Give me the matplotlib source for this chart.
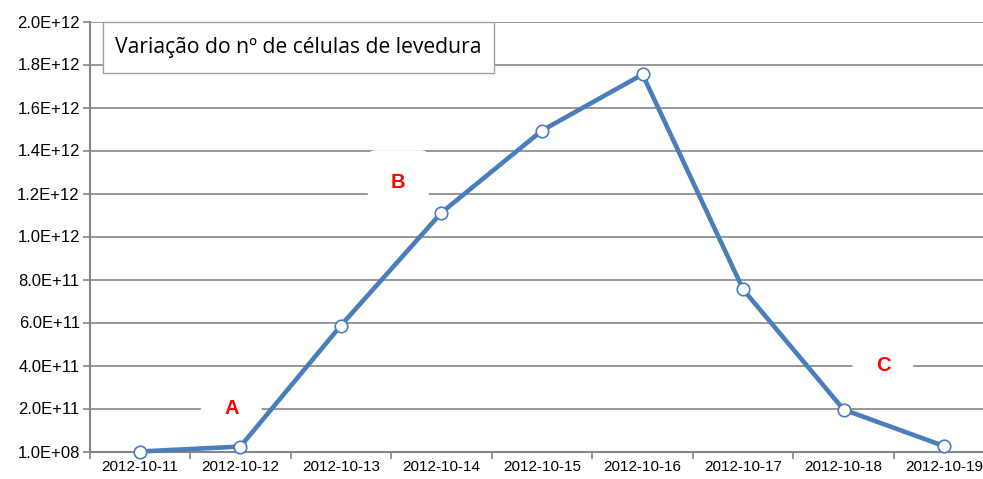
import matplotlib.pyplot as plt
from matplotlib.patches import Rectangle
from matplotlib.ticker import FixedLocator, FuncFormatter

# Dados
datas = ['2012-10-11', '2012-10-12', '2012-10-13', '2012-10-14', '2012-10-15',
         '2012-10-16', '2012-10-17', '2012-10-18', '2012-10-19']
celulas = [1.0e8, 2.3e10, 5.86e11, 1.111e12, 1.493e12, 1.754e12, 7.54e11, 1.95e11, 2.5e10]
fases = ['A', 'B', 'C']
fases_x = [0.91, 2.57, 7.39]
fases_y = [2.0e11, 1.25e12, 4.0e11]
titulo = 'Variação do nº de células de levedura'

W, H = 983, 479
fig = plt.figure(figsize=(W / 100, H / 100), dpi=100)
ax = fig.add_axes([89.5 / W, (H - 451.5) / H, 905 / W, 430 / H])

x = list(range(len(datas)))
grid_c = '#868686'
linha_c = '#4A7EBB'

ax.plot(x, celulas, color=linha_c, lw=3.3, marker='o', ms=9,
        mfc='white', mec=linha_c, mew=1.2, zorder=5, clip_on=False)

ymin, step = 1.0e8, 2.0e11
yticks = [ymin + k * step for k in range(11)]
ax.set_ylim(yticks[0], yticks[-1])
ax.set_xlim(-0.5, len(datas) - 0.5)
ax.yaxis.set_major_locator(FixedLocator(yticks))
ax.yaxis.set_major_formatter(FuncFormatter(lambda v, p: '%.1E' % v))
ax.grid(axis='y', color=grid_c, lw=1.2, zorder=1)

# ticks nos limites das categorias, rótulos no centro
ax.xaxis.set_major_locator(FixedLocator([i - 0.5 for i in range(len(datas) + 1)]))
ax.xaxis.set_major_formatter(FuncFormatter(lambda v, p: ''))
ax.xaxis.set_minor_locator(FixedLocator(x))
ax.set_xticklabels(datas, minor=True)
ax.tick_params(axis='x', which='major', length=5, width=1.2, color=grid_c, direction='out')
ax.tick_params(axis='x', which='minor', length=0, pad=6, labelsize=11)
ax.tick_params(axis='y', length=5, width=1.2, color=grid_c, labelsize=12, pad=2)
for lab in ax.get_xticklabels(minor=True) + ax.get_yticklabels():
    lab.set_fontfamily('Liberation Sans')

for s in ['top', 'right']:
    ax.spines[s].set_visible(False)
for s in ['left', 'bottom']:
    ax.spines[s].set_color(grid_c)
    ax.spines[s].set_linewidth(1.5)

for t, fx, fy in zip(fases, fases_x, fases_y):
    ax.text(fx, fy, t, color='red', fontsize=14.5, fontweight='bold',
            family='Liberation Sans', ha='center', va='center', zorder=3,
            bbox=dict(boxstyle='round,pad=1.15,rounding_size=0.4', fc='white', ec='none'))

# caixa do título
bx0, bx1, by0, by1 = 103, 494, 21.5, 73
ax.add_patch(Rectangle(((bx0 - 89.5) / 905, 1 - (by1 - 21.5) / 430),
                       (bx1 - bx0) / 905, (by1 - by0) / 430,
                       transform=ax.transAxes, fc='white', ec='#A0A0A0', lw=1.0,
                       zorder=6, clip_on=False))
ax.text((115 - 89.5) / 905, 1 - (47 - 21.5) / 430, titulo, transform=ax.transAxes,
        fontsize=15.2, family='Open Sans', ha='left', va='center', zorder=7)

fig.savefig('out.png', dpi=100)
